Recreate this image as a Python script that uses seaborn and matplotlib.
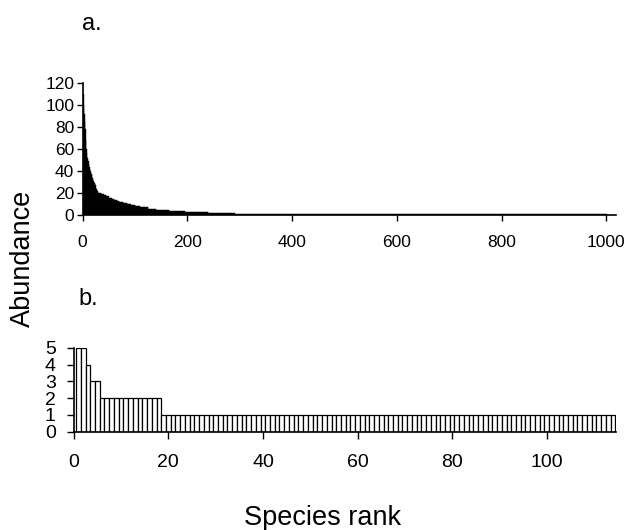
import numpy as np
import pandas as pd
import matplotlib
matplotlib.use("Agg")
import matplotlib.pyplot as plt
import seaborn as sns

# --- panel a: rank-abundance for ~1000 species ---
# first 30 ranks read one by one
head_abund = [120, 110, 100, 92, 85, 78, 68, 60, 56, 52,
              49, 46, 44, 42, 40, 38, 37, 36, 34, 33,
              31, 30, 29, 28, 27, 25, 24, 23, 22, 21]
# after that, runs of equal abundance: value and last rank with that value
run_abund = [20, 19, 18, 17, 16, 15, 14, 13, 12, 11, 10, 9, 8, 7, 6, 5, 4, 3, 2, 1]
run_last_rank = [35, 40, 45, 50, 55, 60, 65, 70, 77, 85, 92, 100, 110, 125,
                 140, 165, 195, 240, 290, 1000]

# --- panel b: rank-abundance for 114 species ---
b_abund_levels = [5, 4, 3, 2, 1]
b_counts = [2, 1, 2, 13, 96]

# build the tables
prev = [len(head_abund)] + run_last_rank[:-1]
run_counts = [last - p for last, p in zip(run_last_rank, prev)]
abund_a = np.concatenate([head_abund, np.repeat(run_abund, run_counts)])
df_a = pd.DataFrame({"rank": np.arange(1, len(abund_a) + 1), "abund": abund_a})

abund_b = np.repeat(b_abund_levels, b_counts)
df_b = pd.DataFrame({"rank": np.arange(1, len(abund_b) + 1), "abund": abund_b})

sns.set_style("ticks")
plt.rcParams['font.family'] = ['Liberation Sans', 'DejaVu Sans']
plt.rcParams['text.color'] = 'black'
plt.rcParams['axes.labelcolor'] = 'black'
plt.rcParams['xtick.color'] = 'black'
plt.rcParams['ytick.color'] = 'black'

fig = plt.figure(figsize=(6.25, 5.3), dpi=100)
ax1 = fig.add_axes([0.132, 0.594, 0.854, 0.2496])
ax2 = fig.add_axes([0.118, 0.1855, 0.868, 0.158])

# panel a - solid black bars
sns.barplot(data=df_a, x="rank", y="abund", native_scale=True, color="black",
            saturation=1, width=1, edgecolor="black", linewidth=0.3,
            errorbar=None, ax=ax1)
ax1.set_xlim(0, 1019)
ax1.set_ylim(0, 120)
ax1.set_xticks(range(0, 1001, 200))
ax1.set_yticks(range(0, 121, 20))
ax1.tick_params(axis="x", labelsize=12.5, length=4, width=1, pad=10)
ax1.tick_params(axis="y", labelsize=12.5, length=4, width=1, pad=2)

# panel b - open bars
sns.barplot(data=df_b, x="rank", y="abund", native_scale=True, color="white",
            saturation=1, width=1, edgecolor="black", linewidth=0.9,
            errorbar=None, ax=ax2)
ax2.set_xlim(0, 114.7)
ax2.set_ylim(0, 5)
ax2.set_xticks(range(0, 101, 20))
ax2.set_yticks(range(0, 6))
ax2.tick_params(axis="x", labelsize=14, length=5, width=1, pad=11)
ax2.tick_params(axis="y", labelsize=14, length=5, width=1, pad=8)

for ax in (ax1, ax2):
    ax.set_xlabel("")
    ax.set_ylabel("")
    sns.despine(ax=ax)
    for s in ("left", "bottom"):
        ax.spines[s].set_linewidth(1.2)
        ax.spines[s].set_color("black")

fig.text(0.131, 0.943, "a.", fontsize=17, ha="left", va="baseline")
fig.text(0.125, 0.4245, "b.", fontsize=17, ha="left", va="baseline")
fig.text(0.037, 0.513, "Abundance", fontsize=19.5, rotation=90, ha="center", va="center")
fig.text(0.516, 0.0094, "Species rank", fontsize=19.5, ha="center", va="baseline")

fig.savefig("out.png", dpi=100)
